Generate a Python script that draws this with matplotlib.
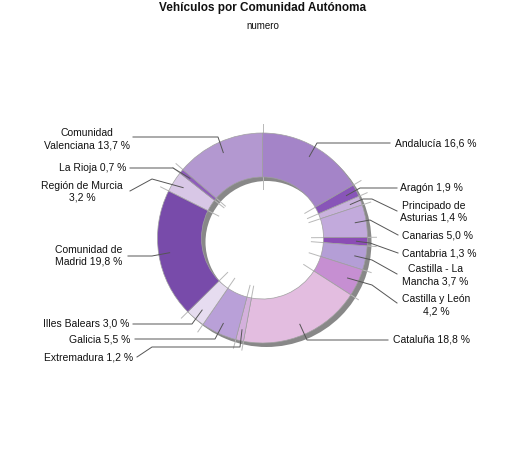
import numpy as np
import matplotlib
matplotlib.use("Agg")
import matplotlib.pyplot as plt
from matplotlib.patches import Wedge

plt.rcParams['font.family'] = ['Liberation Sans', 'DejaVu Sans']

# ---- data ----
regions = ["Andalucía", "Aragón", "Principado de\nAsturias", "Canarias", "Cantabria",
           "Castilla - La\nMancha", "Castilla y León\n", "Cataluña", "Extremadura",
           "Galicia", "Illes Balears", "Comunidad de\nMadrid", "Región de Murcia\n",
           "La Rioja", "Comunidad\nValenciana"]
shares = [16.6, 1.9, 1.4, 5.0, 1.3, 3.7, 4.2, 18.8, 1.2, 5.5, 3.0, 19.8, 3.2, 0.7, 13.7]
colors = ["#A484C8", "#8855B8", "#C9B2DD", "#C2AADC", "#8B4DB5", "#B49ED6", "#C68FD2",
          "#E3BDE0", "#D4B0DC", "#B9A0D8", "#E6DCF0", "#784BAA", "#D8C7E6", "#8E5DBA",
          "#B398D0"]

# ---- layout (pixel coordinates, y downward) ----
W, H = 525, 450
CX, CY = 262.5, 238
R_OUT, R_IN = 105, 61
# per label: intermediate points, end point of leader, text anchor, side
layout = [
    ([(317, 143)], (390, 143), (395, 143), 'left'),
    ([(360, 188)], (397, 188), (400, 188), 'left'),
    ([(363, 199), (372, 199)], (397, 211), (400, 212), 'left'),
    ([(370, 220)], (398, 235), (402, 235), 'left'),
    ([(370, 243)], (398, 253), (402, 253), 'left'),
    ([(372, 260)], (397, 274), (402, 275), 'left'),
    ([(372, 285)], (397, 303), (402, 305), 'left'),
    ([(307, 340)], (388, 340), (393, 340), 'left'),
    ([(240, 347), (152, 347)], (137, 357), (133, 358), 'right'),
    ([(215, 339)], (135, 339), (130, 339), 'right'),
    ([(192, 324)], (133, 324), (129, 323), 'right'),
    ([(152, 256)], (128, 256), (122, 256), 'right'),
    ([(152, 179)], (130, 191), (123, 192), 'right'),
    ([(173, 168)], (130, 168), (126, 168), 'right'),
    ([(218, 137)], (133, 137), (130, 139), 'right'),
]

def Y(y):
    return H - y

fig = plt.figure(figsize=(W / 100, H / 100), dpi=100)
ax = fig.add_axes([0, 0, 1, 1])

# shadow ring
ax.add_patch(Wedge((CX + 4, Y(CY) - 4), R_OUT, 0, 360, width=R_OUT - R_IN,
                   facecolor='#888888', edgecolor='none', zorder=1))

# light boundary lines
cum = np.concatenate([[0], np.cumsum(shares)]) / sum(shares)
for c in cum[:-1]:
    a = np.deg2rad(90 - 360 * c)
    r0, r1 = R_IN - 12, R_OUT + 9
    ax.plot([CX + r0 * np.cos(a), CX + r1 * np.cos(a)],
            [Y(CY) + r0 * np.sin(a), Y(CY) + r1 * np.sin(a)],
            color='#b8b8b8', lw=0.7, zorder=1.5)

wedges, _ = ax.pie(shares, colors=colors, startangle=90, counterclock=False,
                   center=(CX, Y(CY)), radius=R_OUT, frame=True,
                   wedgeprops=dict(width=R_OUT - R_IN, edgecolor='#a0a0a0', linewidth=0.5))
for w in wedges:
    w.set_zorder(2)

# leaders and labels
for i, (name, v) in enumerate(zip(regions, shares)):
    mid = (cum[i] + cum[i + 1]) / 2
    a = np.deg2rad(90 - 360 * mid)
    sx, sy = CX + 94 * np.cos(a), Y(CY) + 94 * np.sin(a)
    pts, end, txt, side = layout[i]
    xs = [sx] + [p[0] for p in pts] + [end[0]]
    ys = [sy] + [Y(p[1]) for p in pts] + [Y(end[1])]
    ax.plot(xs, ys, color='#555555', lw=0.7, zorder=3)
    label = name.rstrip('\n')
    val = f"{v:.1f}".replace('.', ',') + " %"
    if name.endswith('\n'):
        text = label + "\n" + val
    else:
        text = label + " " + val
    ax.text(txt[0], Y(txt[1]), text, ha=side, va='center', multialignment='center',
            fontsize=7.5, color='#111111', linespacing=1.25, zorder=4)

ax.set_xlim(0, W)
ax.set_ylim(0, H)
ax.set_aspect('equal')
ax.axis('off')

fig.text(0.5, 1 - 8 / H, "Vehículos por Comunidad Autónoma", ha='center', va='center',
         fontsize=8.5, fontweight='bold', color='#111111')
fig.text(0.5, 1 - 26 / H, "numero", ha='center', va='center', fontsize=7, color='#111111')

fig.savefig("out.png", dpi=100, facecolor='white')
